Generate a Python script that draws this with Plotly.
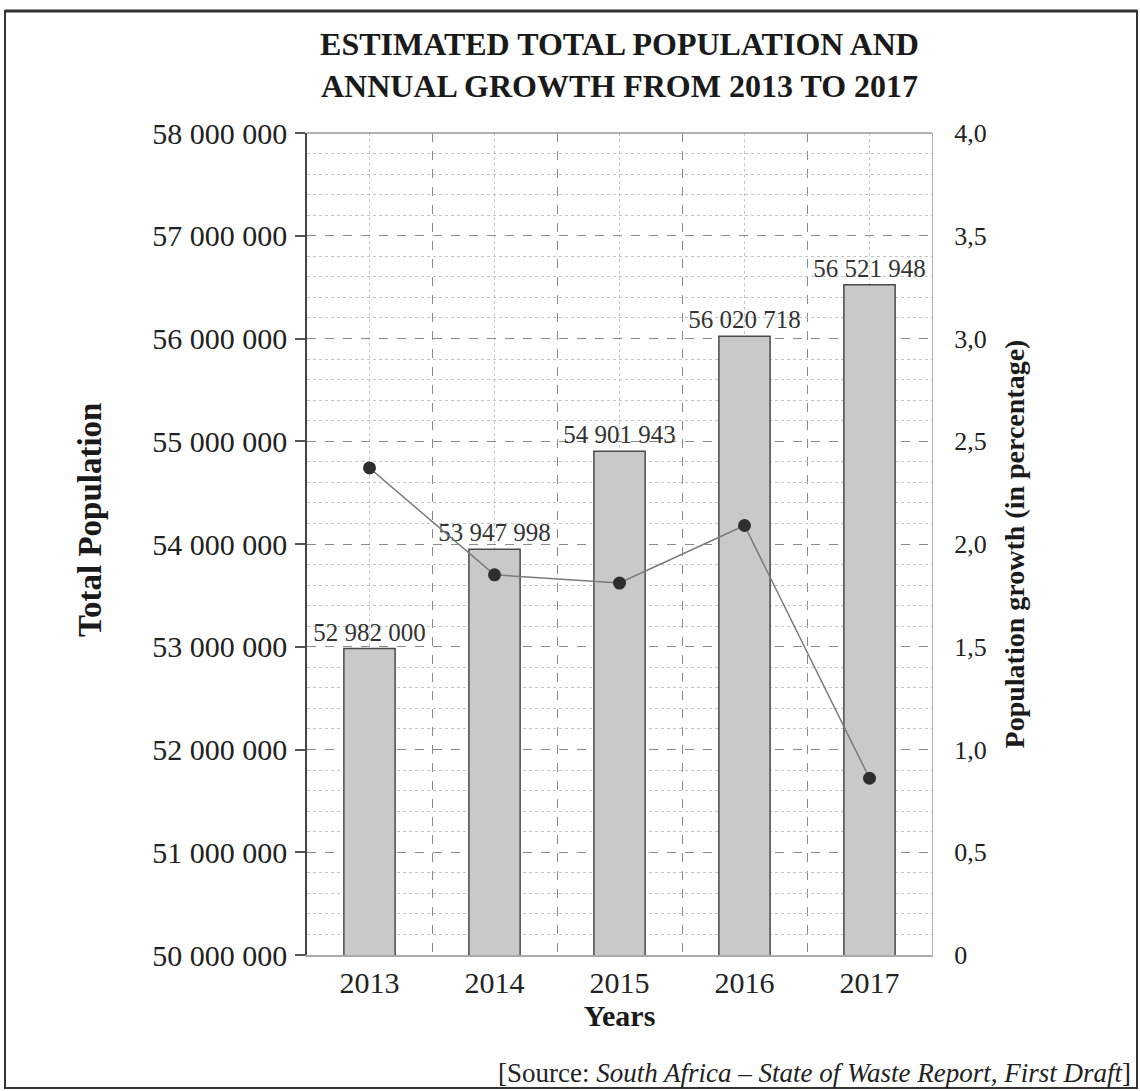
import plotly.graph_objects as go

years = ["2013", "2014", "2015", "2016", "2017"]
population = [52982000, 53947998, 54901943, 56020718, 56521948]
growth = [2.37, 1.85, 1.81, 2.09, 0.86]
right_tickvals = [0, 0.5, 1.0, 1.5, 2.0, 2.5, 3.0, 3.5, 4.0]
right_ticktext = ["0", "0,5", "1,0", "1,5", "2,0", "2,5", "3,0", "3,5", "4,0"]

FONT = "Liberation Serif"
xpos = [i + 0.5 for i in range(len(years))]
boundaries = [i for i in range(1, len(years))]

W, H = 1140, 1091
L, R, T, B = 307, 208, 133, 136
pw, ph = W - L - R, H - T - B

def px(x):
    return (x - L) / pw

def py(y):
    return (H - B - y) / ph

fig = go.Figure()
fig.add_trace(go.Bar(
    x=xpos, y=population, width=0.41,
    marker=dict(color="#c9c9c9", line=dict(color="#4a4a4a", width=1.5)),
    texttemplate="%{y:,d}", textposition="outside", cliponaxis=False,
    constraintext="none",
    textfont=dict(family=FONT, size=25, color="#333333"),
    showlegend=False,
))
fig.add_trace(go.Scatter(
    x=xpos, y=growth, yaxis="y2", mode="lines+markers",
    line=dict(color="#7a7a7a", width=1.5),
    marker=dict(color="#2e2e2e", size=13),
    showlegend=False,
))

fig.update_layout(
    width=W, height=H,
    margin=dict(l=L, r=R, t=T, b=B),
    paper_bgcolor="white", plot_bgcolor="white",
    separators=", ",
    font=dict(family=FONT, color="#222222"),
    title=dict(
        text="<b>ESTIMATED TOTAL POPULATION AND<br>ANNUAL GROWTH FROM 2013 TO 2017</b>",
        x=0.5, xref="paper", xanchor="center",
        y=1 - 55 / H, yref="container", yanchor="middle",
        font=dict(family=FONT, size=32, color="#1a1a1a"),
    ),
    xaxis=dict(
        range=[0, len(years)],
        tickvals=xpos, ticktext=years,
        tickfont=dict(family=FONT, size=30, color="#222"),
        ticks="", ticklabelstandoff=0,
        showgrid=True, gridcolor="#c8c8c8", griddash="dot", gridwidth=1,
        minor=dict(tickvals=boundaries, showgrid=True, gridcolor="#8a8a8a",
                   griddash="dash", gridwidth=1),
        showline=True, linecolor="#aaaaaa", linewidth=1.5,
        zeroline=False,
        title=dict(text="<b>Years</b>", font=dict(family=FONT, size=30, color="#1a1a1a"),
                   standoff=0),
    ),
    yaxis=dict(
        range=[50000000, 58000000],
        dtick=1000000, tickformat=",d",
        tickfont=dict(family=FONT, size=30, color="#222"),
        ticks="outside", ticklen=10, tickcolor="#555", tickwidth=1.5,
        ticklabelstandoff=2,
        showgrid=True, gridcolor="#8a8a8a", griddash="dash", gridwidth=1,
        minor=dict(dtick=200000, showgrid=True, gridcolor="#c4c4c4",
                   griddash="dot", gridwidth=1),
        showline=True, linecolor="#444444", linewidth=1.5,
        zeroline=False,
    ),
    yaxis2=dict(
        overlaying="y", side="right",
        range=[0, 4.0],
        tickvals=right_tickvals, ticktext=right_ticktext,
        tickfont=dict(family=FONT, size=26, color="#222"),
        ticks="", ticklabelstandoff=16,
        showgrid=False, zeroline=False,
        showline=True, linecolor="#b0b0b0", linewidth=1,
        title=dict(text="<b>Population growth (in percentage)</b>",
                   font=dict(family=FONT, size=28, color="#1a1a1a"), standoff=18),
    ),
)

# left axis title placed as in reference
fig.add_annotation(
    text="<b>Total Population</b>", textangle=-90,
    xref="paper", yref="paper", x=px(90), y=py(520),
    xanchor="center", yanchor="middle", showarrow=False,
    font=dict(family=FONT, size=33, color="#1a1a1a"),
)

# top border of plot area
fig.add_shape(type="line", xref="paper", yref="paper", x0=0, x1=1, y0=1, y1=1,
              line=dict(color="#999999", width=1.5))
# outer frame
fig.add_shape(type="rect", xref="paper", yref="paper",
              x0=px(5), x1=px(1137), y0=py(1088), y1=py(11),
              line=dict(color="#333333", width=2))
fig.add_shape(type="line", xref="paper", yref="paper",
              x0=px(5), x1=px(1137), y0=py(11), y1=py(11),
              line=dict(color="#333333", width=3))

fig.add_annotation(
    text="[Source: <i>South Africa – State of Waste Report, First Draft</i>]",
    xref="paper", yref="paper", x=px(1133), y=py(1073),
    xanchor="right", yanchor="middle", showarrow=False,
    font=dict(family=FONT, size=27, color="#222"),
)

fig.write_html("out.html", config={"displayModeBar": False},
               post_script="document.body.style.margin='0px';document.body.style.overflow='hidden';")
